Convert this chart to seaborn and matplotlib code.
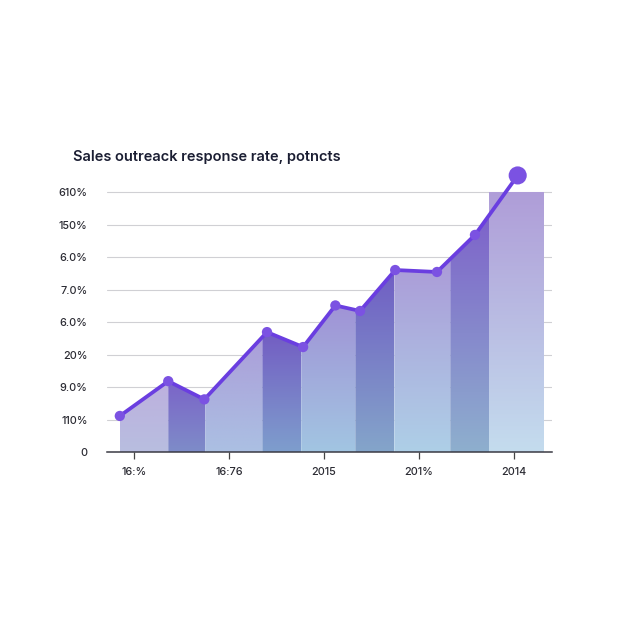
import numpy as np
import matplotlib
matplotlib.use("Agg")
import matplotlib.pyplot as plt
import seaborn as sns
from matplotlib.colors import to_rgb
from matplotlib.patches import Polygon

# data (x in tick units, y in gridline units)
point_x = [-0.15, 0.36, 0.74, 1.40, 1.78, 2.12, 2.38, 2.75, 3.19, 3.59, 4.04]
point_y = [1.11, 2.18, 1.62, 3.69, 3.23, 4.51, 4.34, 5.60, 5.54, 6.68, 8.51]
band_edges = [-0.15, 0.36, 0.75, 1.35, 1.76, 2.33, 2.74, 3.33, 3.74, 4.32]
last_band_top = 8.0
band_top_colors = ["#bdb0de", "#7b64c9", "#ab9ed9", "#735dc3", "#a093d6",
                   "#705ec4", "#ab9bd8", "#7e63ca", "#af9dd8"]
band_bottom_colors = ["#b8bee0", "#7e8cc8", "#abc0e3", "#7e9ecd", "#a2c5e2",
                      "#84a5ca", "#aecfe7", "#8eafce", "#c4dcee"]

x_tick_pos = [0, 1, 2, 3, 4]
x_tick_labels = ["16:%", "16:76", "2015", "201%", "2014"]
y_tick_pos = [0, 1, 2, 3, 4, 5, 6, 7, 8]
y_tick_labels = ["0", "110%", "9.0%", "20%", "6.0%", "7.0%", "6.0%", "150%", "610%"]

title = "Sales outreack response rate, potncts"

sns.set_theme(style="white")
plt.rcParams["font.family"] = ["Inter", "DejaVu Sans"]

fig = plt.figure(figsize=(6.3, 6.3), dpi=100)
fig.patch.set_facecolor("white")
ax = fig.add_axes([0.17, 0.2825, 0.706, 0.4643])
ax.set_xlim(-0.284, 4.4)
ax.set_ylim(0, 9.0)

# gridlines
for y in y_tick_pos[1:]:
    ax.axhline(y, color="#d0d0d4", lw=0.8, zorder=0)

# gradient filled bands under the line
for i in range(len(band_edges) - 1):
    x0, x1 = band_edges[i], band_edges[i + 1]
    if i == len(band_edges) - 2:
        xs = [x0, x1]
        ys = [last_band_top, last_band_top]
    else:
        inner = [px for px in point_x if x0 < px < x1]
        xs = [x0] + inner + [x1]
        ys = list(np.interp(xs, point_x, point_y))
    verts = [(x0, 0)] + list(zip(xs, ys)) + [(x1, 0)]
    poly = Polygon(verts, closed=True, facecolor="none", edgecolor="none")
    ax.add_patch(poly)
    top = max(ys)
    c_top = np.array(to_rgb(band_top_colors[i]))
    c_bot = np.array(to_rgb(band_bottom_colors[i]))
    t = np.linspace(0, 1, 100)[:, None]
    grad = (c_top * (1 - t) + c_bot * t)[:, None, :]
    im = ax.imshow(grad, extent=[x0, x1, 0, top], aspect="auto",
                   origin="upper", zorder=1, interpolation="bicubic")
    im.set_clip_path(poly)

sns.lineplot(x=point_x, y=point_y, ax=ax, color="#6a3ee0", lw=2.7,
             zorder=3, sort=False)
sizes = [55] * (len(point_x) - 1) + [170]
ax.scatter(point_x, point_y, s=sizes, color="#7b52e2", zorder=4,
           edgecolor="none", clip_on=False)

ax.set_xticks(x_tick_pos)
ax.set_xticklabels(x_tick_labels, fontsize=7.8, color="#2b2b33",
                   fontweight="medium")
ax.set_yticks(y_tick_pos)
ax.set_yticklabels(y_tick_labels, fontsize=7.8, color="#2b2b33",
                   fontweight="medium")
ax.tick_params(axis="x", length=5, width=0.9, color="#444", pad=6, bottom=True)
ax.tick_params(axis="y", length=0, pad=14)

for side in ["top", "right", "left"]:
    ax.spines[side].set_visible(False)
ax.spines["bottom"].set_color("#3a3a44")
ax.spines["bottom"].set_linewidth(1.1)
ax.set_facecolor("none")

fig.text(0.116, 0.75, title, fontsize=10.5, fontweight="semibold",
         color="#1b1e33", va="center", ha="left")

fig.savefig("out.png", dpi=100, facecolor="white")
